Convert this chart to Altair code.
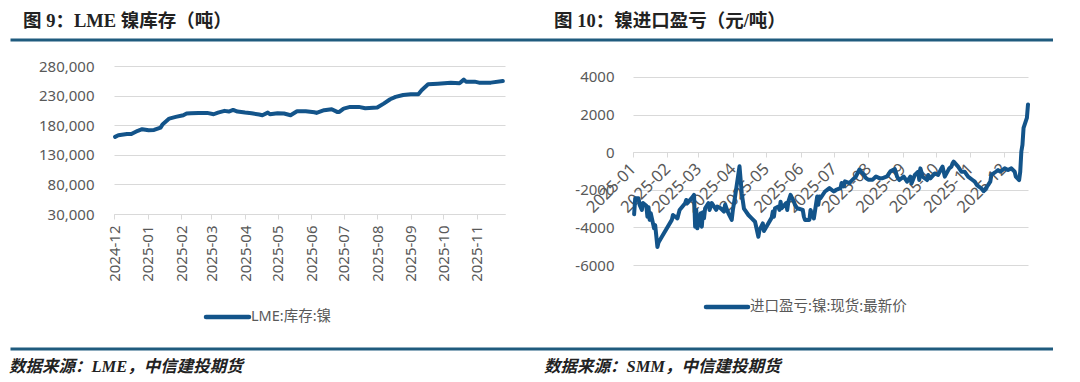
import altair as alt
import pandas as pd

# ---------------- data ----------------
lme_dates = [
    "2024-12-02", "2024-12-05", "2024-12-13", "2024-12-17", "2024-12-23", "2024-12-27",
    "2025-01-02", "2025-01-07", "2025-01-13", "2025-01-15", "2025-01-21", "2025-01-27",
    "2025-02-03", "2025-02-06", "2025-02-10", "2025-02-17", "2025-02-25",
    "2025-03-03", "2025-03-07", "2025-03-13", "2025-03-17", "2025-03-21", "2025-03-25",
    "2025-04-01", "2025-04-07", "2025-04-14", "2025-04-17", "2025-04-22", "2025-04-24",
    "2025-05-01", "2025-05-07", "2025-05-13", "2025-05-19", "2025-05-27",
    "2025-06-04", "2025-06-06", "2025-06-13", "2025-06-20", "2025-06-25", "2025-06-27",
    "2025-07-01", "2025-07-07", "2025-07-15", "2025-07-21",
    "2025-08-01", "2025-08-07", "2025-08-13", "2025-08-18", "2025-08-25",
    "2025-09-01", "2025-09-08", "2025-09-11", "2025-09-17", "2025-09-26",
    "2025-10-08", "2025-10-16", "2025-10-20", "2025-10-22", "2025-10-30",
    "2025-11-03", "2025-11-14", "2025-11-25",
]
lme_stock = [
    160300, 163100, 165000, 165000, 170500, 173300,
    171600, 172000, 176000, 181700, 191200, 194000,
    196900, 199700, 200300, 200800, 200800,
    198500, 201300, 204200, 203000, 205800, 203000,
    201300, 200200, 198000, 196900, 201300, 198500,
    200200, 199700, 196900, 203600, 203600,
    201900, 200800, 205300, 207000, 202500, 202500,
    208100, 210900, 210900, 208700,
    209800, 216500, 223800, 227800, 231100,
    232200, 232200, 239000, 249100, 250200,
    251900, 250800, 257000, 253600, 253600,
    251900, 251900, 254700,
]

imp_dates = [
    "2025-01-02", "2025-01-03", "2025-01-06", "2025-01-07", "2025-01-09", "2025-01-10",
    "2025-01-13", "2025-01-14", "2025-01-15", "2025-01-16", "2025-01-17", "2025-01-20",
    "2025-01-21", "2025-01-23", "2025-01-24", "2025-01-27",
    "2025-02-05", "2025-02-06", "2025-02-10", "2025-02-12", "2025-02-17", "2025-02-18",
    "2025-02-19", "2025-02-24", "2025-02-25", "2025-02-26", "2025-02-27", "2025-02-28",
    "2025-03-03", "2025-03-04", "2025-03-05", "2025-03-06", "2025-03-07", "2025-03-10",
    "2025-03-11", "2025-03-13", "2025-03-17", "2025-03-18", "2025-03-21", "2025-03-24",
    "2025-03-25", "2025-03-28", "2025-03-31",
    "2025-04-01", "2025-04-03", "2025-04-07", "2025-04-09", "2025-04-11", "2025-04-15",
    "2025-04-18", "2025-04-21", "2025-04-24", "2025-04-25", "2025-04-28", "2025-04-29",
    "2025-05-06", "2025-05-07", "2025-05-08", "2025-05-09", "2025-05-12", "2025-05-13",
    "2025-05-14", "2025-05-15", "2025-05-19", "2025-05-20", "2025-05-21", "2025-05-23",
    "2025-05-26", "2025-05-27", "2025-05-29",
    "2025-06-03", "2025-06-04", "2025-06-05", "2025-06-09", "2025-06-10", "2025-06-11",
    "2025-06-13", "2025-06-16", "2025-06-17", "2025-06-18", "2025-06-19", "2025-06-23",
    "2025-06-25", "2025-06-27",
    "2025-07-01", "2025-07-03", "2025-07-07", "2025-07-08", "2025-07-10", "2025-07-11",
    "2025-07-15", "2025-07-18", "2025-07-21", "2025-07-24", "2025-07-28", "2025-07-30",
    "2025-08-01", "2025-08-05", "2025-08-08", "2025-08-11", "2025-08-14", "2025-08-18",
    "2025-08-21", "2025-08-25", "2025-08-27", "2025-08-29",
    "2025-09-02", "2025-09-05", "2025-09-08", "2025-09-09", "2025-09-12", "2025-09-15",
    "2025-09-16", "2025-09-17", "2025-09-19", "2025-09-23", "2025-09-24", "2025-09-26",
    "2025-09-30",
    "2025-10-03", "2025-10-06", "2025-10-07", "2025-10-09", "2025-10-13", "2025-10-15",
    "2025-10-16", "2025-10-17", "2025-10-21", "2025-10-24", "2025-10-27", "2025-10-30",
    "2025-11-03", "2025-11-05", "2025-11-07", "2025-11-11", "2025-11-13", "2025-11-17",
    "2025-11-19", "2025-11-20", "2025-11-24", "2025-11-26", "2025-11-28",
    "2025-12-02", "2025-12-05", "2025-12-08", "2025-12-11", "2025-12-12", "2025-12-15",
    "2025-12-16", "2025-12-17", "2025-12-18", "2025-12-19", "2025-12-22", "2025-12-23",
]
imp_pl = [
    -3300, -2450, -2450, -2800, -3070, -2700,
    -2850, -3430, -2930, -3600, -3250, -4050,
    -3880, -5040, -4800, -4500,
    -3600, -3340, -3520, -3070, -2710, -2540,
    -2710, -2360, -2270, -3960, -3070, -4050,
    -3250, -3960, -3200, -3520, -2980, -2710,
    -3070, -2710, -3070, -2890, -2980, -3160,
    -2800, -3250, -3600,
    -3070, -2360, -750, -2180, -3000, -3340,
    -3520, -3700, -4500, -4140, -3790, -4190,
    -3480, -3160, -3430, -2980, -2890, -3070,
    -2630, -2980, -2710, -3070, -2630, -2270,
    -2630, -2800, -2980,
    -3070, -3430, -3600, -3600, -3070, -3250,
    -3520, -2360, -2800, -2360, -2450, -2090,
    -2000, -1910,
    -2090, -2000, -1910, -1640, -1820, -1550,
    -1640, -1460, -1290, -930, -1200, -1380,
    -1460, -1460, -1290, -1380, -1380, -1290,
    -1020, -900, -1300, -1480,
    -1300, -1570, -1300, -1660, -1210, -1040,
    -1480, -860, -1300, -1480, -1210, -1390,
    -1130,
    -1210, -860, -770, -1300, -860, -770,
    -590, -500, -770, -1040, -1040, -1300,
    -1480, -1570, -1750, -1930, -2070, -1750,
    -1570, -1210, -1040, -950, -1040,
    -860, -950, -860, -1040, -1300, -1480,
    -1040, 35, 390, 1290, 1820, 2540,
]
assert len(lme_dates) == len(lme_stock)
assert len(imp_dates) == len(imp_pl)

left_months = ["2024-12", "2025-01", "2025-02", "2025-03", "2025-04", "2025-05",
               "2025-06", "2025-07", "2025-08", "2025-09", "2025-10", "2025-11"]
right_months = ["2025-01", "2025-02", "2025-03", "2025-04", "2025-05", "2025-06",
                "2025-07", "2025-08", "2025-09", "2025-10", "2025-11", "2025-12"]
left_yticks = [30000, 80000, 130000, 180000, 230000, 280000]
right_yticks = [-6000, -4000, -2000, 0, 2000, 4000]

left_title = "图 9：LME 镍库存（吨）"
right_title = "图 10：镍进口盈亏（元/吨）"
left_legend = "LME:库存:镍"
right_legend = "进口盈亏:镍:现货:最新价"
left_source = "数据来源：LME，中信建投期货"
right_source = "数据来源：SMM，中信建投期货"

# ---------------- style ----------------
LINE = "#13548a"
RULE = "#1f5b7e"
GRAY = "#595959"
GRID = "#d9d9d9"
FONT = "Noto Sans, Noto Sans CJK SC"
TFONT = "Liberation Serif, Noto Sans CJK SC"

W1, H1 = 391, 148
W2, H2 = 395, 199


def dt(s, day=1):
    y, m = s.split("-")[:2]
    return alt.DateTime(year=int(y), month=int(m), date=day)


def one(text=""):
    return alt.Chart(pd.DataFrame({"t": [text]}))


def text_layer(text, x, y, size, color, font, weight="normal", style="normal"):
    return one(text).mark_text(
        align="left", baseline="middle", font=font, fontSize=size,
        fontWeight=weight, fontStyle=style, color=color,
    ).encode(x=alt.value(x), y=alt.value(y), text="t:N")


def hrule(x1, x2, y, color, width, cap="butt"):
    return one().mark_rule(color=color, strokeWidth=width, strokeCap=cap).encode(
        x=alt.value(x1), x2=alt.value(x2), y=alt.value(y)
    )


# ---------------- left panel ----------------
df_l = pd.DataFrame({"date": pd.to_datetime(lme_dates), "value": lme_stock})
line_l = alt.Chart(df_l).mark_line(
    color=LINE, strokeWidth=4, strokeCap="round", strokeJoin="round"
).encode(
    x=alt.X("date:T", title=None,
            scale=alt.Scale(domain=[dt("2024-12"), dt("2025-11", 27)]),
            axis=alt.Axis(values=[dt(m) for m in left_months], format="%Y-%m",
                          labelAngle=-90, labelAlign="right", labelBaseline="middle",
                          labelFont=FONT, labelFontSize=15, labelColor=GRAY,
                          labelPadding=6, tickSize=5, tickColor=GRID, domainColor=GRID,
                          grid=False, labelOverlap=False)),
    y=alt.Y("value:Q", title=None,
            scale=alt.Scale(domain=[30000, 280000], nice=False, zero=False),
            axis=alt.Axis(values=left_yticks, format=",d", grid=True, gridColor=GRID,
                          domain=False, ticks=False, labelPadding=20,
                          labelFont=FONT, labelFontSize=15, labelColor=GRAY)),
)

left = alt.layer(
    line_l,
    # invisible corner marker (fixes the page's top-left)
    hrule(-104.5, -100, -56.5, "white", 1),
    text_layer(left_title, -91, -45, 18.5, "#222222", TFONT, weight="bold"),
    hrule(-103.5, 939, -26, RULE, 3),
    hrule(92, 135, 251, LINE, 4.5, cap="round"),
    text_layer(left_legend, 137, 251, 14.5, GRAY, FONT),
    hrule(-103.5, 939, 283, RULE, 3),
    text_layer(left_source, -105, 301, 16.5, "#222222", TFONT, weight="bold", style="italic"),
).properties(width=W1, height=H1)

# ---------------- right panel ----------------
df_r = pd.DataFrame({"date": pd.to_datetime(imp_dates), "value": imp_pl})
line_r = alt.Chart(df_r).mark_line(
    color=LINE, strokeWidth=4, strokeCap="round", strokeJoin="round"
).encode(
    x=alt.X("date:T", title=None,
            scale=alt.Scale(domain=[dt("2025-01"), dt("2025-12", 23)]),
            axis=alt.Axis(values=[dt(m) for m in right_months], format="%Y-%m",
                          orient="bottom", offset=-113,
                          labelAngle=-45, labelAlign="right", labelBaseline="middle",
                          labelFont=FONT, labelFontSize=16.5, labelColor=GRAY,
                          labelPadding=9, tickSize=5, tickColor=GRID, domainColor=GRID,
                          grid=False, labelOverlap=False)),
    y=alt.Y("value:Q", title=None,
            scale=alt.Scale(domain=[-6000, 4585], nice=False, zero=False),
            axis=alt.Axis(values=right_yticks, labelExpr="'' + datum.value",
                          grid=True, gridColor=GRID, domain=False, ticks=False,
                          labelPadding=19, labelFont=FONT, labelFontSize=15,
                          labelColor=GRAY)),
)

right = alt.layer(
    line_r,
    text_layer(right_title, -79, -45, 18.5, "#222222", TFONT, weight="bold"),
    hrule(73, 115, 241, LINE, 4.5, cap="round"),
    text_layer(right_legend, 117, 241, 14.5, GRAY, FONT),
    text_layer(right_source, -89, 301, 16.5, "#222222", TFONT, weight="bold", style="italic"),
).properties(width=W2, height=H2)

chart = alt.hconcat(left, right, spacing=128, bounds="flush").properties(
    padding=0, background="white"
).configure_view(stroke="transparent")

chart.save("out.html", embed_options={"renderer": "svg", "actions": False})
